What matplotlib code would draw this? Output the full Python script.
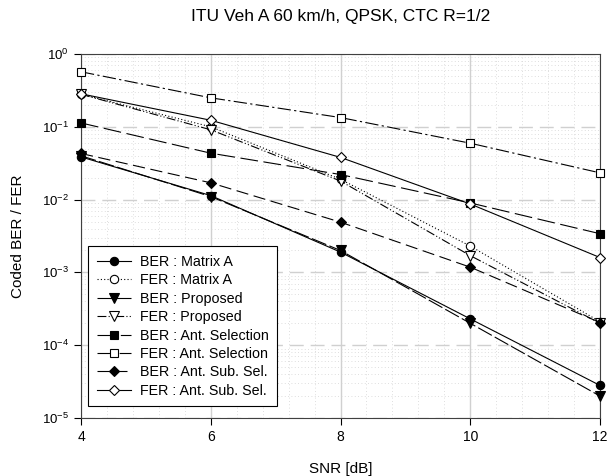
import numpy as np
import matplotlib
matplotlib.use("Agg")
import matplotlib.pyplot as plt
from matplotlib.ticker import MultipleLocator, LogLocator, NullFormatter

plt.rcParams["font.family"] = ["Liberation Sans", "DejaVu Sans"]
plt.rcParams["mathtext.fontset"] = "custom"
plt.rcParams["mathtext.rm"] = "Liberation Sans"
plt.rcParams["axes.unicode_minus"] = False

snr = [4, 6, 8, 10, 12]

ber_matrix_a = [0.0386, 0.01135, 0.0019, 0.00023, 2.8e-5]
fer_matrix_a = [0.28, 0.10, 0.019, 0.0023, 0.00021]
ber_proposed = [0.040, 0.0110, 0.0020, 0.00020, 2.0e-5]
fer_proposed = [0.28, 0.091, 0.018, 0.0017, 0.00020]
ber_ant_sel = [0.113, 0.0434, 0.0221, 0.0090, 0.0034]
fer_ant_sel = [0.57, 0.25, 0.134, 0.0595, 0.0233]
ber_ant_sub = [0.043, 0.017, 0.0049, 0.00118, 0.000205]
fer_ant_sub = [0.284, 0.123, 0.038, 0.0087, 0.0016]

series = [
    ("BER : Matrix A", ber_matrix_a, "o", True, (None, None)),
    ("FER : Matrix A", fer_matrix_a, "o", False, (1, 2)),
    ("BER : Proposed", ber_proposed, "v", True, (14, 3)),
    ("FER : Proposed", fer_proposed, "v", False, (8, 2, 1, 2, 1, 2)),
    ("BER : Ant. Selection", ber_ant_sel, "s", True, (16, 5)),
    ("FER : Ant. Selection", fer_ant_sel, "s", False, (12, 3, 2, 3)),
    ("BER : Ant. Sub. Sel.", ber_ant_sub, "D", True, (11, 5)),
    ("FER : Ant. Sub. Sel.", fer_ant_sub, "D", False, (None, None)),
]

fig = plt.figure(figsize=(6.15, 4.76), dpi=100)
ax = fig.add_axes([81 / 615, 1 - 418 / 476, (600 - 81) / 615, (418 - 54) / 476])

for label, vals, marker, filled, dashes in series:
    ms = 5.5 if marker == "D" else 6
    if marker == "v":
        ms = 6.5
    line, = ax.semilogy(
        snr, vals, color="black", linewidth=0.8, marker=marker, markersize=ms,
        markerfacecolor="black" if filled else "white",
        markeredgecolor="black", markeredgewidth=0.8, label=label,
        clip_on=False, zorder=3,
    )
    if dashes[0] is None:
        line.set_linestyle("-")
    else:
        line.set_dashes(dashes)

ax.set_xlim(4, 12)
ax.set_ylim(1e-5, 1)
ax.xaxis.set_major_locator(MultipleLocator(2))
ax.xaxis.set_minor_locator(MultipleLocator(0.4))
ax.yaxis.set_major_locator(LogLocator(base=10, numticks=10))
ax.yaxis.set_minor_locator(LogLocator(base=10, subs=np.arange(2, 10), numticks=20))
ax.yaxis.set_minor_formatter(NullFormatter())

ax.grid(which="minor", color="#d4d4d4", linestyle=(0, (1, 3)), linewidth=0.6)
ax.grid(which="major", axis="x", color="#d0d0d0", linestyle="-", linewidth=1.0)
ax.grid(which="major", axis="y", color="#d0d0d0", linestyle=(0, (10, 5)), linewidth=1.0)
ax.set_axisbelow(True)

ax.tick_params(which="major", direction="out", length=5, width=0.8, labelsize=10, colors="black")
ax.tick_params(which="minor", length=0)
ax.tick_params(axis="y", labelsize=9.5)
for sp in ax.spines.values():
    sp.set_color("#404040")
    sp.set_linewidth(0.8)

ax.set_title("ITU Veh A 60 km/h, QPSK, CTC R=1/2", fontsize=12.5, pad=24)
ax.set_xlabel("SNR [dB]", fontsize=11, labelpad=13)
ax.set_ylabel("Coded BER / FER", fontsize=11, labelpad=12)

leg = ax.legend(
    loc="lower left", bbox_to_anchor=(0.0, 0.012), fontsize=10.3,
    frameon=True, fancybox=False, edgecolor="black", framealpha=1,
    handlelength=2.4, labelspacing=0.31, borderpad=0.6, handletextpad=0.6,
)
leg.get_frame().set_linewidth(0.8)

fig.savefig("out.png", dpi=100)
